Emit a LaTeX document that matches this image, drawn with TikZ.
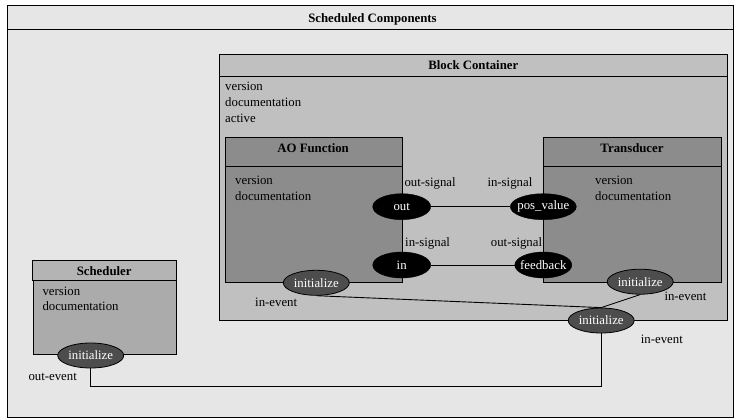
\documentclass[tikz,border=0pt]{standalone}
\usepackage{fontspec}
\setmainfont{Liberation Serif}
\usetikzlibrary{shapes.geometric}
\definecolor{bgc}{HTML}{E6E6E6}
\definecolor{bcc}{HTML}{C0C0C0}
\definecolor{fbc}{HTML}{8C8C8C}
\definecolor{sct}{HTML}{B4B4B4}
\definecolor{scb}{HTML}{ABABAB}
\definecolor{evc}{HTML}{4D4D4D}
\begin{document}
\begin{tikzpicture}[x=1pt,y=-1pt,
 every node/.style={font=\fontsize{12.8}{16}\selectfont},
 frame/.style={draw=black, line width=0.9pt, inner sep=0pt, anchor=north west},
 title/.style={font=\fontsize{12.8}{16}\selectfont\bfseries, anchor=base, inner sep=0pt},
 attr/.style={anchor=base west, inner sep=0pt},
 lbl/.style={anchor=base west, inner sep=0pt},
 port/.style={ellipse, fill=black, draw=black, text=white, inner sep=0pt, minimum height=26pt},
 evport/.style={ellipse, fill=evc, draw=black, line width=0.8pt, text=white, inner sep=0pt, minimum width=66pt, minimum height=25pt},
 wire/.style={draw=black, line width=0.9pt}]
\useasboundingbox (0,0) rectangle (738,418);
% outer frame
\node[frame, fill=bgc, minimum width=726pt, minimum height=411.5pt] (outer) at (7,5) {};
\draw[wire] ([yshift=-24.3pt]outer.north west) -- ([yshift=-24.3pt]outer.north east);
\node[title] (tsc) at (372.5,22.5) {Scheduled Components};
% block container
\node[frame, fill=bcc, minimum width=508pt, minimum height=266pt] (bc) at (219.3,54) {};
\draw[wire] ([yshift=-22.7pt]bc.north west) -- ([yshift=-22.7pt]bc.north east);
\node[title] (tbc) at (473.3,69.8) {Block Container};
\node[attr] (bc1) at (225,90.2) {version};
\node[attr] (bc2) at (225,106.6) {documentation};
\node[attr] (bc3) at (225,122.6) {active};
% AO function
\node[frame, fill=fbc, minimum width=177.2pt, minimum height=144.4pt] (ao) at (224.5,137.3) {};
\draw[wire] ([yshift=-29.4pt]ao.north west) -- ([yshift=-29.4pt]ao.north east);
\node[title] (tao) at (313.1,152.5) {AO Function};
\node[attr] (ao1) at (235,184.5) {version};
\node[attr] (ao2) at (235,200.2) {documentation};
% Transducer
\node[frame, fill=fbc, minimum width=177.4pt, minimum height=144.4pt] (tr) at (543.3,137.3) {};
\draw[wire] ([yshift=-29pt]tr.north west) -- ([yshift=-29pt]tr.north east);
\node[title] (ttr) at (632,152) {Transducer};
\node[attr] (tr1) at (595,184.5) {version};
\node[attr] (tr2) at (595,200.2) {documentation};
% Scheduler
\node[frame, fill=scb, minimum width=143pt, minimum height=94.3pt] (sch) at (32.7,260) {};
\path[fill=sct, draw=black, line width=0.9pt] (sch.north west) rectangle ([yshift=-20pt]sch.north east);
\node[title] (tsch) at (104.2,275) {Scheduler};
\node[attr] (sc1) at (42.3,295.2) {version};
\node[attr] (sc2) at (42.3,310.5) {documentation};
% signal labels
\node[lbl] (l1) at (404.3,186.3) {out-signal};
\node[lbl] (l2) at (487.3,186.3) {in-signal};
\node[lbl] (l3) at (405,246.1) {in-signal};
\node[lbl] (l4) at (490.7,246.1) {out-signal};
\node[lbl] (l5) at (255,306.6) {in-event};
\node[lbl] (l6) at (664.3,300) {in-event};
\node[lbl] (l7) at (640.7,343.3) {in-event};
\node[lbl] (l8) at (28.3,380.3) {out-event};
% ports
\node[port, minimum width=58pt] (out) at (401.7,206.7) {\makebox[0pt]{out}};
\node[port, minimum width=66pt] (posv) at (543.3,206.7) {\makebox[0pt]{pos\_value}};
\node[port, minimum width=58pt] (in) at (401.7,265) {\makebox[0pt]{in}};
\node[port, minimum width=57pt] (fb) at (543.3,265) {\makebox[0pt]{feedback}};
\node[evport] (aoinit) at (316.3,282.8) {\makebox[0pt]{initialize}};
\node[evport] (trinit) at (640.2,281.7) {\makebox[0pt]{initialize}};
\node[evport] (bcinit) at (601.2,320.5) {\makebox[0pt]{initialize}};
\node[evport] (schinit) at (90.7,355.5) {\makebox[0pt]{initialize}};
% wires
\draw[wire] (out) -- (posv);
\draw[wire] (in) -- (fb);
\draw[wire] (aoinit.south) -- (bcinit.north);
\draw[wire] (trinit.south) -- (bcinit.north);
\coordinate (low) at (0,386.7);
\draw[wire] (schinit.south) -- (schinit.south |- low) -| (bcinit.south);
\end{tikzpicture}
\end{document}
